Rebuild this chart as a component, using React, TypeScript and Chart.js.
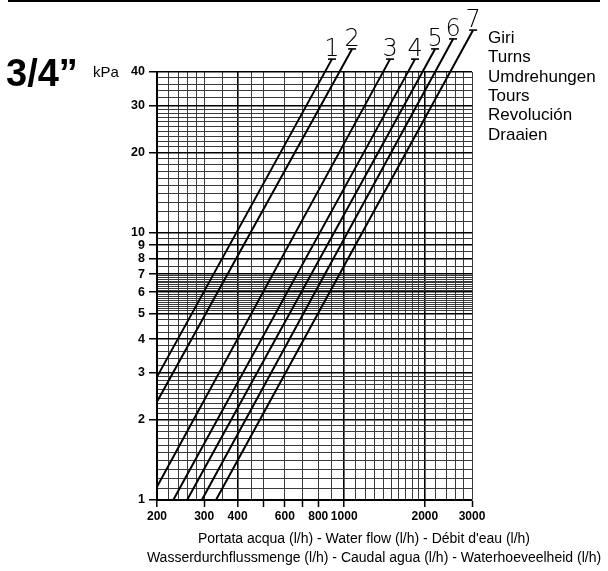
import React, { useEffect, useRef } from 'react';
import { Chart, registerables } from 'chart.js';

Chart.register(...registerables);

// ---- data ----
const FLOW_GRID = [200, 220, 240, 260, 280, 300, 350, 400, 450, 500, 600, 700, 800, 900, 1000, 1100, 1200, 1300, 1400, 1500, 1600, 1700, 1800, 1900, 2000, 2200, 2400, 2600, 2800, 3000];
const FLOW_LABELS = [200, 300, 400, 600, 800, 1000, 2000, 3000];
const FLOW_TICK_MARKS = [200, 300, 400, 500, 600, 700, 800, 1000, 2000, 3000];
const FLOW_STRONG = [200, 400, 1000, 2000];

const PRESSURE_GRID = [
  1, 1.1, 1.2, 1.3, 1.4, 1.5, 1.6, 1.7, 1.8, 1.9,
  2, 2.1, 2.2, 2.3, 2.4, 2.5, 2.6, 2.7, 2.8, 2.9,
  3, 3.2, 3.4, 3.6, 3.8,
  4, 4.25, 4.5, 4.75,
  5, 5.1, 5.2, 5.3, 5.4, 5.5, 5.6, 5.7, 5.8, 5.9,
  6, 6.1, 6.2, 6.3, 6.4, 6.5, 6.6, 6.7, 6.8, 6.9,
  7, 7.5, 8, 8.5, 9, 9.5,
  10, 11, 12, 13, 14, 15, 16, 17, 18, 19,
  20, 21, 22, 23, 24, 25, 26, 27, 28, 29,
  30, 32, 34, 36, 38, 40,
];
const PRESSURE_LABELS = [1, 2, 3, 4, 5, 6, 7, 8, 9, 10, 20, 30, 40];

const TURNS = ['1', '2', '3', '4', '5', '6', '7'];
const FLOW_START = [200, 200, 200, 230, 259, 294, 332];
const PRESSURE_START = [2.89, 2.33, 1.12, 1, 1, 1, 1];
const FLOW_END = [900, 1070, 1483, 1838, 2184, 2549, 3029];
const PRESSURE_END = [44.7, 48.8, 44.7, 44.7, 48.8, 53.2, 57.4];

const TURNS_LEGEND = ['Giri', 'Turns', 'Umdrehungen', 'Tours', 'Revolución', 'Draaien'];
const X_TITLE = [
  "Portata acqua (l/h) - Water flow (l/h) - Débit d'eau (l/h)",
  'Wasserdurchflussmenge (l/h) - Caudal agua (l/h) - Waterhoeveelheid (l/h)',
];
const SIZE_LABEL = '3/4\u201D';
const UNIT_LABEL = 'kPa';

const SANS = "'Liberation Sans', Arial, sans-serif";

const decorPlugin = {
  id: 'decor',
  afterDatasetsDraw(chart: any) {
    const ctx = chart.ctx;
    ctx.save();
    chart.data.datasets.forEach((ds: any, i: number) => {
      const meta = chart.getDatasetMeta(i);
      const pt = meta.data[meta.data.length - 1];
      ctx.strokeStyle = '#000';
      ctx.lineWidth = 1.6;
      ctx.beginPath();
      ctx.moveTo(pt.x - 4, pt.y);
      ctx.lineTo(pt.x + 4, pt.y);
      ctx.stroke();
      ctx.fillStyle = '#000';
      ctx.font = "200 24px 'DejaVu Sans'";
      ctx.textAlign = 'center';
      ctx.textBaseline = 'alphabetic';
      ctx.fillText(ds.label, pt.x, pt.y - 3);
    });
    ctx.restore();
  },
  afterDraw(chart: any) {
    const ctx = chart.ctx;
    ctx.save();
    // top rule
    ctx.fillStyle = '#000';
    ctx.fillRect(8, 0, 592, 2);
    // size title
    ctx.font = `bold 38px ${SANS}`;
    ctx.textAlign = 'left';
    ctx.textBaseline = 'alphabetic';
    ctx.fillText(SIZE_LABEL, 6, 86);
    // unit
    ctx.font = `15px ${SANS}`;
    ctx.fillText(UNIT_LABEL, 93, 77);
    // legend of turns
    ctx.font = `17px ${SANS}`;
    TURNS_LEGEND.forEach((t, i) => {
      ctx.fillText(t, 488, 43 + i * 19.3);
    });
    // x title
    ctx.font = `14px ${SANS}`;
    ctx.textAlign = 'center';
    ctx.fillText(X_TITLE[0], 364, 543);
    ctx.fillText(X_TITLE[1], 374, 562);
    ctx.restore();
  },
};

export default function App() {
  const ref = useRef<HTMLCanvasElement>(null);
  useEffect(() => {
    if (!ref.current) return;
    const datasets = TURNS.map((t, i) => ({
      label: t,
      data: [
        { x: FLOW_START[i], y: PRESSURE_START[i] },
        { x: FLOW_END[i], y: PRESSURE_END[i] },
      ],
      showLine: true,
      borderColor: '#000',
      borderWidth: 2,
      pointRadius: 0,
      clip: false,
    }));
    const chart = new Chart(ref.current, {
      type: 'scatter',
      data: { datasets },
      options: {
        animation: false,
        responsive: false,
        layout: { padding: { left: 0, top: 72, right: 136, bottom: 0 } },
        plugins: { legend: { display: false }, tooltip: { enabled: false } },
        scales: {
          x: {
            type: 'logarithmic',
            min: 200,
            max: 3000,
            afterBuildTicks: (scale: any) => {
              scale.ticks = FLOW_GRID.map((v) => ({ value: v }));
            },
            afterFit: (scale: any) => {
              scale.height = 71;
            },
            border: { color: '#000', width: 2 },
            grid: {
              color: (c: any) => (FLOW_STRONG.includes(c.tick?.value) ? '#000' : '#3a3a3a'),
              lineWidth: (c: any) => (FLOW_STRONG.includes(c.tick?.value) ? 1.6 : 1),
              tickColor: (c: any) => (FLOW_TICK_MARKS.includes(c.tick?.value) ? '#000' : 'rgba(0,0,0,0)'),
              tickWidth: 1.5,
              tickLength: 7,
            },
            ticks: {
              autoSkip: false,
              maxRotation: 0,
              padding: 2,
              color: '#000',
              font: { family: SANS, size: 12, weight: 'bold' },
              callback: (v: any) => (FLOW_LABELS.includes(Number(v)) ? String(v) : ''),
            },
          },
          y: {
            type: 'logarithmic',
            min: 1,
            max: 40,
            afterBuildTicks: (scale: any) => {
              scale.ticks = PRESSURE_GRID.map((v) => ({ value: v }));
            },
            afterFit: (scale: any) => {
              scale.width = 157;
            },
            border: { color: '#000', width: 2 },
            grid: {
              color: (c: any) => (PRESSURE_LABELS.includes(c.tick?.value) ? '#000' : '#3a3a3a'),
              lineWidth: (c: any) => (PRESSURE_LABELS.includes(c.tick?.value) ? 1.5 : 1),
              tickColor: (c: any) => (PRESSURE_LABELS.includes(c.tick?.value) ? '#000' : 'rgba(0,0,0,0)'),
              tickWidth: 1.5,
              tickLength: 8,
            },
            ticks: {
              autoSkip: false,
              padding: 4,
              color: '#000',
              font: { family: SANS, size: 12.5, weight: 'bold' },
              callback: (v: any) => (PRESSURE_LABELS.includes(Number(v)) ? String(v) : ''),
            },
          },
        },
      },
      plugins: [decorPlugin],
    } as any);
    return () => chart.destroy();
  }, []);
  return (
    <div style={{ position: 'absolute', left: 0, top: 0, width: 608, height: 571, background: '#fff' }}>
      <canvas ref={ref} width={608} height={571} style={{ width: 608, height: 571 }} />
    </div>
  );
}
